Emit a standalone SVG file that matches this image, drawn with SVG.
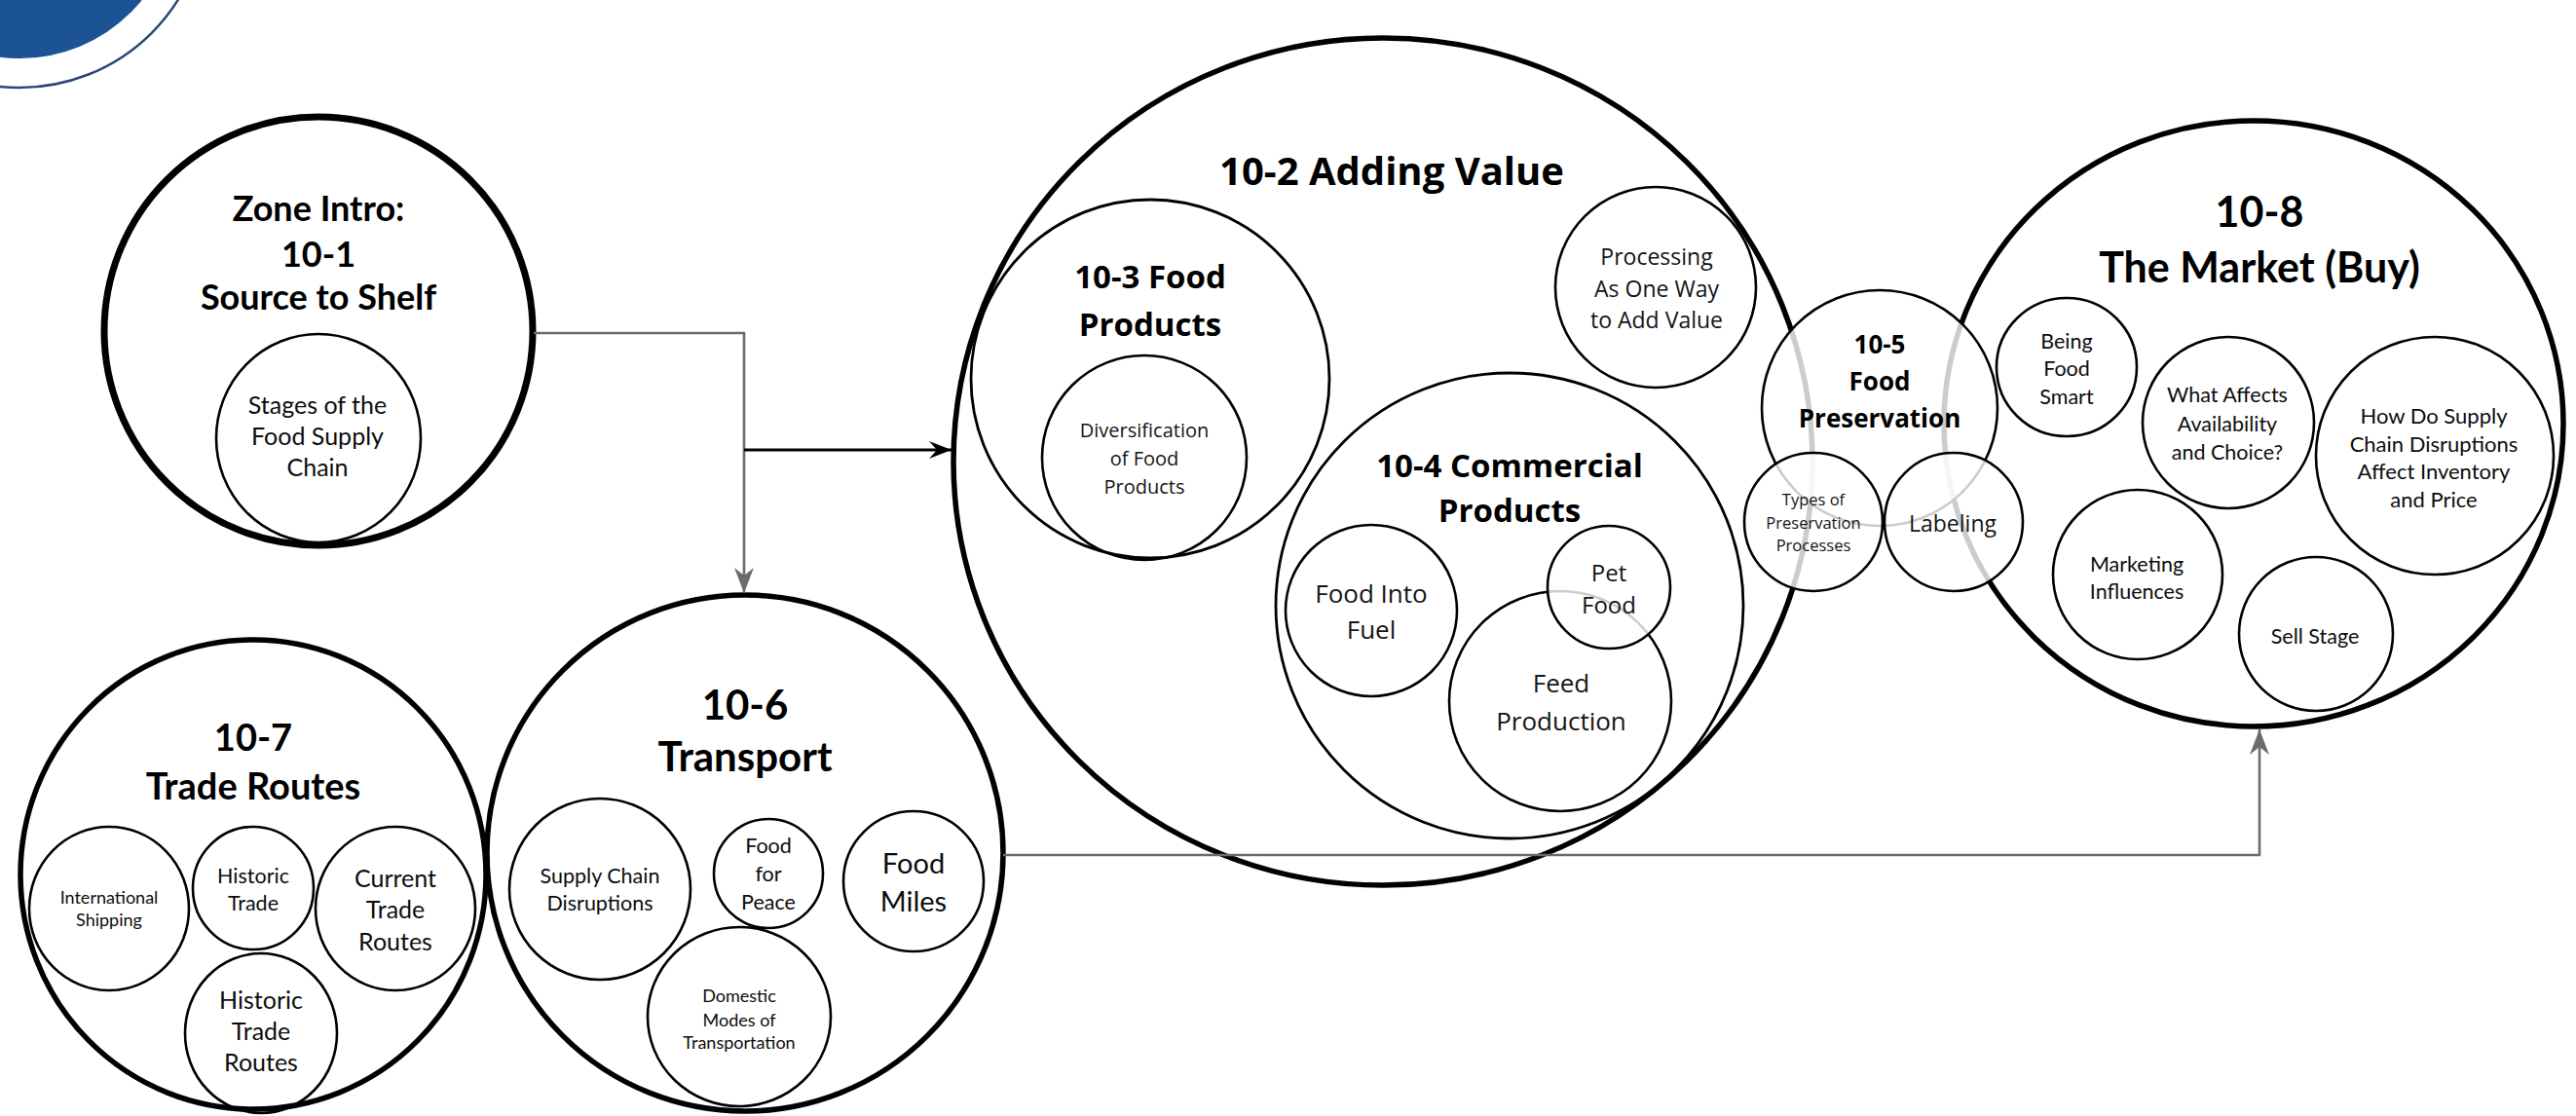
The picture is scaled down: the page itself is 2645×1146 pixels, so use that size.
<svg xmlns="http://www.w3.org/2000/svg" width="2645" height="1146" viewBox="0 0 2645 1146">
  <defs>
    <style>
      .major { fill: none; stroke: #000; stroke-width: 5.5; }
      .intro { fill: none; stroke: #000; stroke-width: 7; }
      .mid { fill: none; stroke: #000; stroke-width: 2.8; }
      .sub { fill: none; stroke: #000; stroke-width: 2.6; }
      .veil { fill: #fff; fill-opacity: 0.8; stroke: #000; stroke-width: 2.6; }
      .cal { font-family: Lato, "Liberation Sans", sans-serif; text-anchor: middle; fill: #0d0d0d; }
      .seg { font-family: "Open Sans", "Liberation Sans", sans-serif; text-anchor: middle; fill: #141414; }
      .b { font-weight: bold; fill: #000; }
      .link-grey { fill: none; stroke: #6b6b6b; stroke-width: 2.6; }
      .link-black { fill: none; stroke: #000; stroke-width: 3; }
    </style>
    <marker id="arrow-grey" markerUnits="userSpaceOnUse" viewBox="0 0 28 22" markerWidth="28" markerHeight="22" refX="26" refY="11" orient="auto">
      <path d="M0,1 L26,11 L0,21 L8,11 Z" fill="#6b6b6b"/>
    </marker>
    <marker id="arrow-black" markerUnits="userSpaceOnUse" viewBox="0 0 25 20" markerWidth="25" markerHeight="20" refX="23" refY="10" orient="auto">
      <path d="M0,1 L23,10 L0,19 L8,10 Z" fill="#000"/>
    </marker>
  </defs>

  <rect width="2645" height="1146" fill="#fff"/>

  <!-- corner emblem -->
  <g id="emblem">
    <circle cx="20" cy="-102" r="162" fill="#1c5394"/>
    <circle cx="20" cy="-102" r="192" fill="none" stroke="#2c4677" stroke-width="2.5"/>
  </g>

  <!-- Zone Intro -->
  <g id="zone-intro">
    <circle class="intro" cx="327" cy="340" r="220"/>
    <text class="cal b" font-size="36" x="327" y="227">Zone Intro:</text>
    <text class="cal b" font-size="36" x="327" y="274">10-1</text>
    <text class="cal b" font-size="36" x="327" y="318">Source to Shelf</text>
  </g>
  <g id="stages">
    <ellipse class="sub" cx="327" cy="450" rx="105" ry="107"/>
    <text class="cal" font-size="25" x="326" y="425">Stages of the</text>
    <text class="cal" font-size="25" x="326" y="457">Food Supply</text>
    <text class="cal" font-size="25" x="326" y="489">Chain</text>
  </g>

  <!-- 10-7 Trade Routes -->
  <g id="trade-routes">
    <ellipse class="major" cx="260" cy="898" rx="239" ry="241"/>
    <text class="cal b" font-size="38" x="260" y="771">10-7</text>
    <text class="cal b" font-size="38" x="260" y="821">Trade Routes</text>
  </g>
  <g id="international-shipping">
    <ellipse class="sub" cx="112" cy="933" rx="82" ry="84"/>
    <text class="cal" font-size="18" x="112" y="928">International</text>
    <text class="cal" font-size="18" x="112" y="951">Shipping</text>
  </g>
  <g id="historic-trade">
    <ellipse class="sub" cx="260" cy="912" rx="62" ry="63"/>
    <text class="cal" font-size="21.5" x="260" y="907">Historic</text>
    <text class="cal" font-size="21.5" x="260" y="935">Trade</text>
  </g>
  <g id="current-trade-routes">
    <ellipse class="sub" cx="406" cy="933" rx="82" ry="84"/>
    <text class="cal" font-size="25" x="406" y="911">Current</text>
    <text class="cal" font-size="25" x="406" y="943">Trade</text>
    <text class="cal" font-size="25" x="406" y="976">Routes</text>
  </g>
  <g id="historic-trade-routes">
    <ellipse class="sub" cx="268" cy="1061" rx="78" ry="82"/>
    <text class="cal" font-size="25" x="268" y="1036">Historic</text>
    <text class="cal" font-size="25" x="268" y="1068">Trade</text>
    <text class="cal" font-size="25" x="268" y="1100">Routes</text>
  </g>

  <!-- 10-6 Transport -->
  <g id="transport">
    <circle class="major" cx="765" cy="876" r="265"/>
    <text class="cal b" font-size="42" x="765" y="739">10-6</text>
    <text class="cal b" font-size="42" x="765" y="792">Transport</text>
  </g>
  <g id="supply-chain-disruptions">
    <circle class="sub" cx="616" cy="913" r="93"/>
    <text class="cal" font-size="21.5" x="616" y="907">Supply Chain</text>
    <text class="cal" font-size="21.5" x="616" y="935">Disruptions</text>
  </g>
  <g id="food-for-peace">
    <circle class="sub" cx="789" cy="897" r="56"/>
    <text class="cal" font-size="21.5" x="789" y="876">Food</text>
    <text class="cal" font-size="21.5" x="789" y="905">for</text>
    <text class="cal" font-size="21.5" x="789" y="934">Peace</text>
  </g>
  <g id="food-miles">
    <circle class="sub" cx="938" cy="905" r="72"/>
    <text class="cal" font-size="29" x="938" y="897">Food</text>
    <text class="cal" font-size="29" x="938" y="936">Miles</text>
  </g>
  <g id="domestic-modes">
    <ellipse class="sub" cx="759" cy="1044" rx="94" ry="92"/>
    <text class="cal" font-size="18" x="759" y="1029">Domestic</text>
    <text class="cal" font-size="18" x="759" y="1054">Modes of</text>
    <text class="cal" font-size="18" x="759" y="1077">Transportation</text>
  </g>

  <!-- 10-2 Adding Value -->
  <g id="adding-value">
    <ellipse class="major" cx="1420" cy="474" rx="441" ry="435"/>
    <text class="seg b" font-size="40" x="1429" y="190">10-2 Adding Value</text>
  </g>
  <g id="food-products">
    <circle class="mid" cx="1181" cy="389" r="184"/>
    <text class="seg b" font-size="33" x="1181" y="296">10-3 Food</text>
    <text class="seg b" font-size="33" x="1181" y="345">Products</text>
  </g>
  <g id="diversification">
    <circle class="sub" cx="1175" cy="470" r="105"/>
    <text class="seg" font-size="20" x="1175" y="449">Diversification</text>
    <text class="seg" font-size="20" x="1175" y="478">of Food</text>
    <text class="seg" font-size="20" x="1175" y="507">Products</text>
  </g>
  <g id="processing">
    <circle class="sub" cx="1700" cy="295" r="103"/>
    <text class="seg" font-size="23" x="1701" y="272">Processing</text>
    <text class="seg" font-size="23" x="1701" y="305">As One Way</text>
    <text class="seg" font-size="23" x="1701" y="337">to Add Value</text>
  </g>
  <g id="commercial-products">
    <ellipse class="mid" cx="1550" cy="622" rx="240" ry="239"/>
    <text class="seg b" font-size="33" x="1550" y="490">10-4 Commercial</text>
    <text class="seg b" font-size="33" x="1550" y="536">Products</text>
  </g>
  <g id="food-into-fuel">
    <circle class="sub" cx="1408" cy="627" r="88"/>
    <text class="seg" font-size="26" x="1408" y="619">Food Into</text>
    <text class="seg" font-size="26" x="1408" y="656">Fuel</text>
  </g>
  <g id="feed-production">
    <ellipse class="sub" cx="1602" cy="720" rx="114" ry="113"/>
    <text class="seg" font-size="26" x="1603" y="711">Feed</text>
    <text class="seg" font-size="26" x="1603" y="750">Production</text>
  </g>
  <g id="pet-food">
    <circle class="veil" cx="1652" cy="603" r="63"/>
    <text class="seg" font-size="24" x="1652" y="597">Pet</text>
    <text class="seg" font-size="24" x="1652" y="630">Food</text>
  </g>

  <!-- 10-8 The Market -->
  <g id="the-market">
    <ellipse class="major" cx="2314" cy="435" rx="318" ry="311"/>
    <text class="cal b" font-size="43" x="2320" y="233">10-8</text>
    <text class="cal b" font-size="43" x="2320" y="290">The Market (Buy)</text>
  </g>
  <g id="being-food-smart">
    <ellipse class="sub" cx="2122" cy="377" rx="72" ry="71"/>
    <text class="cal" font-size="21.5" x="2122" y="358">Being</text>
    <text class="cal" font-size="21.5" x="2122" y="386">Food</text>
    <text class="cal" font-size="21.5" x="2122" y="415">Smart</text>
  </g>
  <g id="availability-choice">
    <circle class="sub" cx="2288" cy="434" r="88"/>
    <text class="cal" font-size="21.5" x="2287" y="413">What Affects</text>
    <text class="cal" font-size="21.5" x="2287" y="443">Availability</text>
    <text class="cal" font-size="21.5" x="2287" y="472">and Choice?</text>
  </g>
  <g id="inventory-price">
    <circle class="sub" cx="2500" cy="468" r="122"/>
    <text class="cal" font-size="22" x="2499" y="435">How Do Supply</text>
    <text class="cal" font-size="22" x="2499" y="464">Chain Disruptions</text>
    <text class="cal" font-size="22" x="2499" y="492">Affect Inventory</text>
    <text class="cal" font-size="22" x="2499" y="521">and Price</text>
  </g>
  <g id="marketing-influences">
    <circle class="sub" cx="2195" cy="590" r="87"/>
    <text class="cal" font-size="21.5" x="2194" y="587">Marketing</text>
    <text class="cal" font-size="21.5" x="2194" y="615">Influences</text>
  </g>
  <g id="sell-stage">
    <circle class="sub" cx="2378" cy="651" r="79"/>
    <text class="cal" font-size="21.5" x="2377" y="661">Sell Stage</text>
  </g>

  <!-- 10-5 Food Preservation, laid over the 10-2 and 10-8 rims -->
  <g id="food-preservation">
    <circle class="veil" cx="1930" cy="419" r="121"/>
    <text class="seg b" font-size="26" x="1930" y="363">10-5</text>
    <text class="seg b" font-size="26" x="1930" y="401">Food</text>
    <text class="seg b" font-size="26" x="1930" y="439">Preservation</text>
  </g>
  <g id="preservation-processes">
    <circle class="veil" cx="1862" cy="536" r="71"/>
    <text class="seg" font-size="16.5" x="1862" y="519">Types of</text>
    <text class="seg" font-size="16.5" x="1862" y="543">Preservation</text>
    <text class="seg" font-size="16.5" x="1862" y="566">Processes</text>
  </g>
  <g id="labeling">
    <circle class="veil" cx="2006" cy="536" r="71"/>
    <text class="seg" font-size="23" x="2005" y="546">Labeling</text>
  </g>

  <!-- connectors -->
  <g id="connectors">
    <path class="link-grey" d="M548,342 H764 V609" marker-end="url(#arrow-grey)"/>
    <path class="link-black" d="M764,462 H977" marker-end="url(#arrow-black)"/>
    <path class="link-grey" d="M1030,878 H2320 V749" marker-end="url(#arrow-grey)"/>
  </g>
</svg>
